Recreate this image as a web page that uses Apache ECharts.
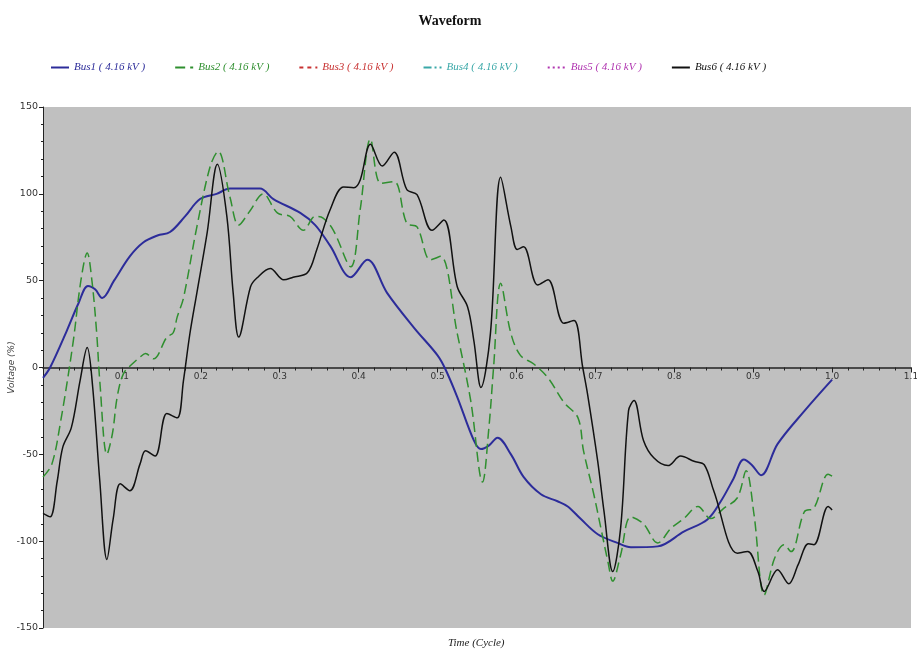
<!DOCTYPE html>
<html>
<head>
<meta charset="utf-8">
<script src="https://cdn.jsdelivr.net/npm/echarts@6/dist/echarts.min.js"></script>
<style>html,body{margin:0;padding:0;background:#fff;}#c{width:917px;height:661px;}</style>
</head>
<body>
<div id="c"></div>
<script>
const seriesNames = ['Bus1 ( 4.16 kV )','Bus2 ( 4.16 kV )','Bus3 ( 4.16 kV )','Bus4 ( 4.16 kV )','Bus5 ( 4.16 kV )','Bus6 ( 4.16 kV )'];
const xTicks = [0,0.1,0.2,0.3,0.4,0.5,0.6,0.7,0.8,0.9,1.0,1.1];
const yTicks = [-150,-100,-50,0,50,100,150];

const bus1 = [[0,-6],[0.009,0],[0.03,21],[0.045,37],[0.057,47],[0.066,45],[0.075,40],[0.09,50],[0.11,64],[0.127,72],[0.145,76],[0.161,78],[0.18,87],[0.199,97],[0.22,100],[0.237,103],[0.256,103],[0.275,103],[0.292,97],[0.326,89],[0.345,82],[0.364,70],[0.39,52],[0.411,62],[0.436,43],[0.47,23],[0.5,7],[0.51,-1],[0.525,-17],[0.546,-42],[0.555,-47],[0.565,-45],[0.576,-40.5],[0.593,-50],[0.609,-63],[0.631,-73],[0.652,-77],[0.665,-80],[0.681,-87],[0.703,-96],[0.728,-101],[0.745,-103.5],[0.779,-103],[0.812,-94.5],[0.842,-87.5],[0.859,-77],[0.875,-64],[0.888,-53],[0.898,-56],[0.91,-62],[0.931,-44],[0.965,-25],[1.0,-7]];

const bus2 = [[0,-63],[0.011,-56],[0.022,-32],[0.038,14],[0.048,50],[0.056,66],[0.062,50],[0.068,20],[0.072,-8],[0.081,-50],[0.088,-38],[0.094,-17],[0.102,-3.5],[0.113,2],[0.123,6],[0.13,8],[0.14,5],[0.157,17.5],[0.165,20],[0.17,29],[0.178,40],[0.195,81],[0.212,116],[0.222,124.5],[0.237,98],[0.248,82],[0.262,90],[0.279,100],[0.297,89],[0.313,87],[0.33,79],[0.345,87],[0.355,86],[0.368,79],[0.39,58],[0.402,91],[0.415,131.5],[0.428,106],[0.445,107],[0.461,83],[0.474,81],[0.491,62],[0.504,64],[0.525,19.5],[0.542,-19],[0.557,-66],[0.565,-35],[0.571,0],[0.58,48.5],[0.593,19.5],[0.605,7],[0.622,2],[0.64,-6],[0.66,-20],[0.678,-29],[0.685,-48],[0.698,-73],[0.707,-92.5],[0.716,-112],[0.722,-123],[0.732,-108],[0.745,-86],[0.761,-90],[0.779,-101],[0.796,-92.5],[0.812,-87],[0.83,-80],[0.846,-87],[0.863,-81],[0.88,-75],[0.891,-59.5],[0.901,-84.5],[0.914,-131],[0.927,-110],[0.939,-102],[0.948,-106],[0.965,-83],[0.977,-81],[0.995,-61.5],[1.0,-62.5]];

const bus3 = [];
const bus4 = [];
const bus5 = [];

const bus6 = [[0,-84],[0.009,-86],[0.018,-65.5],[0.025,-46],[0.036,-34.5],[0.047,-7.5],[0.056,11.5],[0.063,-11.5],[0.072,-65.5],[0.081,-110.5],[0.089,-87],[0.098,-67],[0.11,-71],[0.123,-55.5],[0.13,-48],[0.142,-51],[0.157,-26.5],[0.17,-29],[0.178,-7.5],[0.186,19],[0.195,43],[0.208,77.5],[0.221,117],[0.233,87],[0.241,43],[0.248,17.5],[0.263,46.5],[0.271,51.5],[0.288,57],[0.305,50.5],[0.317,52],[0.335,54.5],[0.347,68],[0.364,91],[0.381,104],[0.394,103.5],[0.402,108],[0.415,128.5],[0.43,116],[0.445,124],[0.461,102.5],[0.474,99.5],[0.493,79],[0.508,85],[0.525,46.5],[0.538,35],[0.546,15.5],[0.555,-11.5],[0.567,19.5],[0.58,109.5],[0.593,81],[0.601,68],[0.609,69.5],[0.627,47.5],[0.64,50.5],[0.66,25.5],[0.673,27],[0.684,0],[0.69,-15],[0.703,-54],[0.711,-83],[0.722,-117.5],[0.732,-92.5],[0.742,-25],[0.749,-19],[0.761,-42],[0.774,-52],[0.792,-56.5],[0.808,-51],[0.825,-54],[0.838,-56],[0.85,-71],[0.88,-107],[0.893,-106],[0.906,-117.5],[0.914,-129],[0.931,-116.5],[0.945,-124.5],[0.957,-113.5],[0.97,-101.5],[0.977,-102],[0.995,-80],[1.0,-82]];

const colors = ['#2c2c9a','#2f8f2f','#c83232','#3aa8a8','#b035b0','#111111'];
const lineTypes = ['solid',[10,5],[4,4],[8,3,2,3],[2,3],'solid'];
const widths = [2,1.5,1.5,1.5,1.5,1.5];
const datas = [bus1,bus2,bus3,bus4,bus5,bus6];

const gridTop = 107, gridBottom = 33, H = 661;
const gridH = H - gridTop - gridBottom;
const yMin = -150, yMax = 150;
const zeroOffset = -gridH * (0 - yMin) / (yMax - yMin);

const chart = echarts.init(document.getElementById('c'));
const serif = 'Liberation Serif';
chart.setOption({
  animation:false,
  backgroundColor:'#ffffff',
  title:{text:'Waveform',left:445,top:9,textAlign:'center',textStyle:{fontFamily:serif,fontWeight:'bold',fontSize:14,color:'#111'}},
  legend:{
    left:45, top:57, itemWidth:18, itemHeight:10, itemGap:29,
    itemStyle:{opacity:0},
    data: seriesNames.map((n,i)=>({name:n,textStyle:{color:colors[i]}})),
    textStyle:{fontFamily:serif,fontStyle:'italic',fontSize:11}
  },
  grid:{left:43,right:6,top:gridTop,bottom:gridBottom,show:true,backgroundColor:'#c0c0c0',borderWidth:0,containLabel:false,outerBoundsMode:'none'},
  xAxis:{
    type:'value',min:0,max:1.1,interval:0.1,position:'bottom',offset:zeroOffset,
    axisLine:{onZero:false,lineStyle:{color:'#222',width:1.5}},
    axisTick:{show:true,length:5,lineStyle:{color:'#222'}},
    minorTick:{show:true,splitNumber:5,length:3,lineStyle:{color:'#222'}},
    splitLine:{show:false},
    axisLabel:{fontFamily:'DejaVu Sans',fontSize:9,color:'#333',margin:5,
      formatter:v=> (Math.abs(v)<1e-9 ? '' : v.toFixed(1))}
  },
  yAxis:{
    type:'value',min:yMin,max:yMax,interval:50,
    name:'Voltage (%)',nameLocation:'middle',nameGap:27,nameRotate:90,nameMoveOverlap:false,
    nameTextStyle:{fontFamily:'DejaVu Sans',fontStyle:'italic',fontSize:9,color:'#444'},
    axisLine:{show:true,onZero:false,lineStyle:{color:'#222',width:1}},
    axisTick:{show:true,length:4,lineStyle:{color:'#222'}},
    minorTick:{show:true,splitNumber:5,length:2,lineStyle:{color:'#222'}},
    splitLine:{show:false},
    axisLabel:{fontFamily:'DejaVu Sans',fontSize:9.5,color:'#333',margin:5}
  },
  graphic:[{type:'text',left:448,top:638,style:{text:'Time (Cycle)',font:'italic 11px "Liberation Serif"',fill:'#222'}}],
  series: seriesNames.map((n,i)=>({
    name:n,type:'line',data:datas[i],showSymbol:false,symbol:'none',smooth:0.35,
    lineStyle:{color:colors[i],width:widths[i],type:lineTypes[i]},
    itemStyle:{color:colors[i]}
  }))
});
</script>
</body>
</html>
